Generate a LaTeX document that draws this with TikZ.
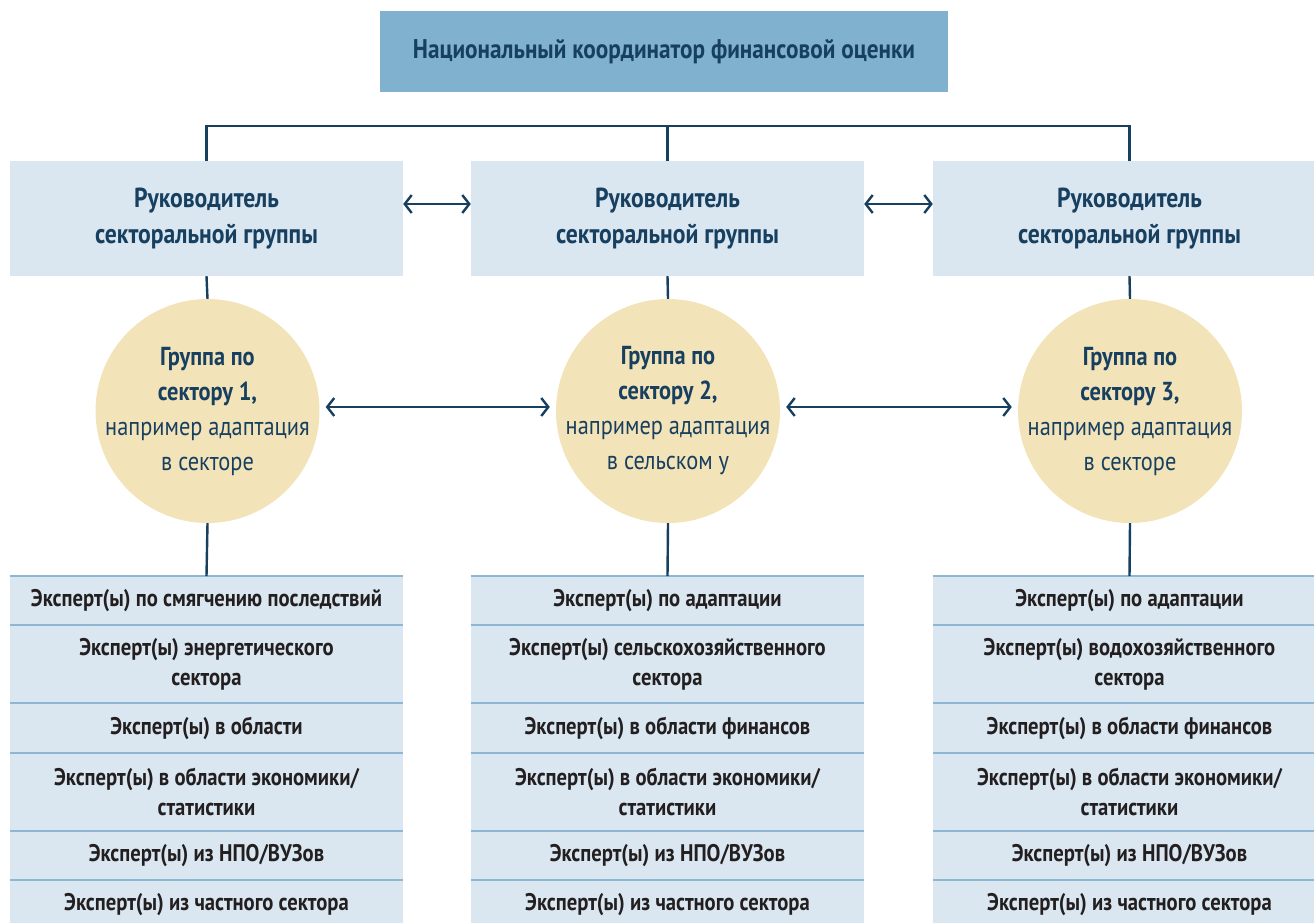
\documentclass[tikz,border=0pt]{standalone}
\usepackage{fontspec}
\setmainfont{PT Sans}[FakeStretch=0.86]
\usetikzlibrary{arrows.meta}

\definecolor{navy}{HTML}{173F5F}
\definecolor{topblue}{HTML}{80B2CF}
\definecolor{paleblue}{HTML}{DAE6F0}
\definecolor{sand}{HTML}{F3E3B9}
\definecolor{rulecol}{HTML}{8DB7D3}
\definecolor{ink}{HTML}{231F20}

\tikzset{
  chief/.style={fill=topblue, minimum width=568pt, minimum height=81pt, text=navy,
    font=\bfseries\fontsize{27}{32}\selectfont},
  lead/.style={fill=paleblue, minimum width=393pt, minimum height=115pt, align=center,
    text=navy, font=\bfseries\fontsize{27.5}{36}\selectfont,
    execute at begin node={\rule{0pt}{31pt}}},
  grp/.style={circle, fill=sand, minimum size=224pt, inner sep=-14pt, align=center,
    text=navy, font=\fontsize{26}{35}\selectfont},
  row/.style={fill=paleblue, minimum width=393pt, inner sep=0pt, anchor=north, align=center,
    text=ink, font=\bfseries\fontsize{24}{30}\selectfont},
  short/.style={row, minimum height=49pt},
  tall/.style={row, minimum height=77.5pt},
  link/.style={draw=navy, line width=2.4pt},
  both/.style={link, {Straight Barb[length=7pt,width=18pt]}-{Straight Barb[length=7pt,width=18pt]}},
  sep/.style={draw=rulecol, line width=2pt}
}

\begin{document}
\begin{tikzpicture}[x=1pt,y=-1pt]
  \useasboundingbox (0,0) rectangle (1314,922);

  \node[chief] (nat) at (664,51.5) {Национальный координатор финансовой оценки};

  % sector leads
  \node[lead] (lead1) at (206.5,218.5) {Руководитель\\секторальной группы};
  \node[lead] (lead2) at (667.5,218.5) {Руководитель\\секторальной группы};
  \node[lead] (lead3) at (1129.5,218.5) {Руководитель\\секторальной группы};

  \coordinate (bus) at (667.5,126);
  \draw[link] (lead1.north) |- (bus) -| (lead3.north);
  \draw[link] (bus) -- (lead2.north);

  \draw[both] ([yshift=14.5pt]lead1.east) -- ([yshift=14.5pt]lead2.west);
  \draw[both] ([yshift=14.5pt]lead2.east) -- ([yshift=14.5pt]lead3.west);

  % sector groups
  \node[grp] (grp1) at (207.5,411) {\textbf{Группа по}\\\textbf{сектору 1,}\\например адаптация\\в секторе};
  \node[grp] (grp2) at (668,411) {\textbf{Группа по}\\\textbf{сектору 2,}\\например адаптация\\в сельском у};
  \node[grp] (grp3) at (1130,411) {\textbf{Группа по}\\\textbf{сектору 3,}\\например адаптация\\в секторе};

  \draw[link] (lead1.south) -- (grp1.north);
  \draw[link] (lead2.south) -- (grp2.north);
  \draw[link] (lead3.south) -- (grp3.north);

  \draw[both, shorten <=6pt, shorten >=6pt] ([yshift=4pt]grp1.east) -- ([yshift=4pt]grp2.west);
  \draw[both, shorten <=6pt, shorten >=6pt] ([yshift=4pt]grp2.east) -- ([yshift=4pt]grp3.west);

  % experts, column 1
  \node[short] (a1) at (206.5,576) {Эксперт(ы) по смягчению последствий};
  \node[tall]  (a2) at (a1.south) {Эксперт(ы) энергетического\\сектора};
  \node[short] (a3) at (a2.south) {Эксперт(ы) в области};
  \node[tall]  (a4) at (a3.south) {Эксперт(ы) в области экономики/\\статистики};
  \node[short] (a5) at (a4.south) {Эксперт(ы) из НПО/ВУЗов};
  \node[short] (a6) at (a5.south) {Эксперт(ы) из частного сектора};

  % experts, column 2
  \node[short] (b1) at (667.5,576) {Эксперт(ы) по адаптации};
  \node[tall]  (b2) at (b1.south) {Эксперт(ы) сельскохозяйственного\\сектора};
  \node[short] (b3) at (b2.south) {Эксперт(ы) в области финансов};
  \node[tall]  (b4) at (b3.south) {Эксперт(ы) в области экономики/\\статистики};
  \node[short] (b5) at (b4.south) {Эксперт(ы) из НПО/ВУЗов};
  \node[short] (b6) at (b5.south) {Эксперт(ы) из частного сектора};

  % experts, column 3
  \node[short] (c1) at (1129.5,576) {Эксперт(ы) по адаптации};
  \node[tall]  (c2) at (c1.south) {Эксперт(ы) водохозяйственного\\сектора};
  \node[short] (c3) at (c2.south) {Эксперт(ы) в области финансов};
  \node[tall]  (c4) at (c3.south) {Эксперт(ы) в области экономики/\\статистики};
  \node[short] (c5) at (c4.south) {Эксперт(ы) из НПО/ВУЗов};
  \node[short] (c6) at (c5.south) {Эксперт(ы) из частного сектора};

  \foreach \col in {a,b,c}
    \foreach \i in {1,...,6}
      \draw[sep] (\col\i.north west) -- (\col\i.north east);

  \draw[link] (grp1.south) -- (a1.north);
  \draw[link] (grp2.south) -- (b1.north);
  \draw[link] (grp3.south) -- (c1.north);
\end{tikzpicture}
\end{document}
